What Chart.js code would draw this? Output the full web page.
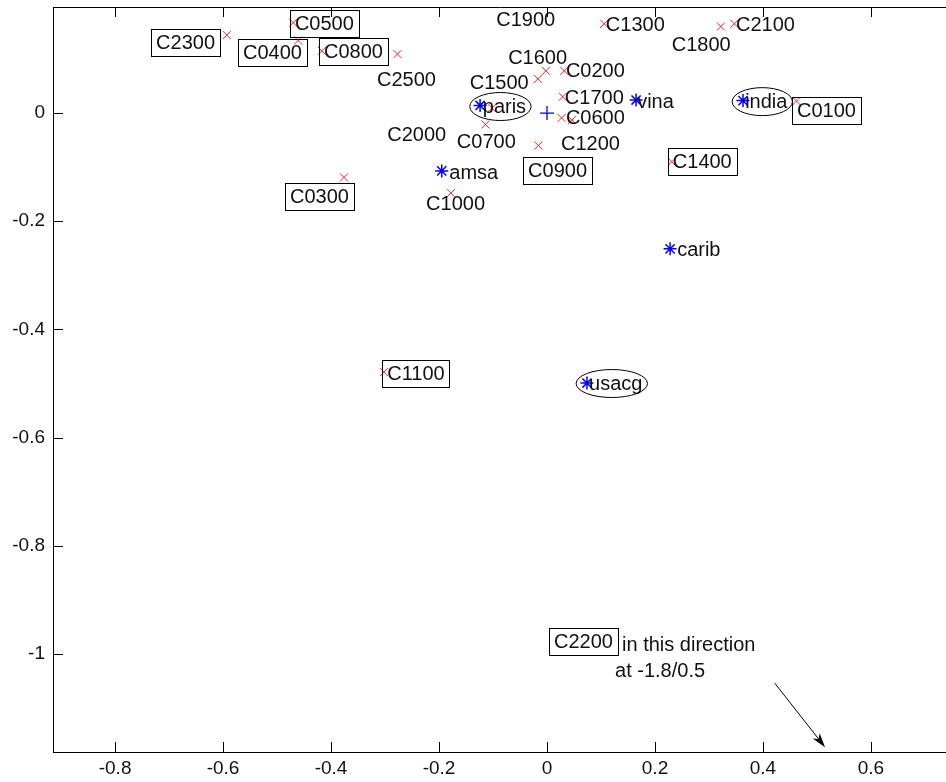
<!DOCTYPE html>
<html>
<head>
<meta charset="utf-8">
<title>Cluster map</title>
<script src="https://cdn.jsdelivr.net/npm/chart.js@4/dist/chart.umd.min.js"></script>
<style>
    html, body { margin: 0; padding: 0; background: #fff; overflow: hidden; }
    #wrap { position: relative; width: 946px; height: 782px; }
</style>
</head>
<body>
<div id="wrap"><canvas id="chart"></canvas></div>
<script>
// Red x markers (cluster points)
const crossX = [-0.593, -0.470, -0.461, -0.417, -0.277, 0.106, 0.322, 0.347, -0.002, -0.017, 0.032,
                0.029, 0.027, 0.046, -0.102, -0.114, -0.016, -0.376, -0.178, 0.462, 0.231, -0.302];
const crossY = [0.144, 0.167, 0.134, 0.115, 0.109, 0.165, 0.160, 0.165, 0.078, 0.063, 0.078,
                0.030, -0.009, -0.013, 0.009, -0.021, -0.060, -0.119, -0.148, 0.022, -0.090, -0.479];

// Blue star markers (regions)
const regionNames = ['paris', 'vina', 'india', 'amsa', 'carib', 'usacg'];
const regionX = [-0.124, 0.165, 0.363, -0.195, 0.228, 0.074];
const regionY = [0.014, 0.024, 0.023, -0.107, -0.251, -0.499];

// Blue plus at the origin
const originX = [0];
const originY = [0];

// Axis ticks
const xTicks = [-0.8, -0.6, -0.4, -0.2, 0, 0.2, 0.4, 0.6];
const xTickLabels = ['-0.8', '-0.6', '-0.4', '-0.2', '0', '0.2', '0.4', '0.6'];
const yTicks = [-1, -0.8, -0.6, -0.4, -0.2, 0];
const yTickLabels = ['-1', '-0.8', '-0.6', '-0.4', '-0.2', '0'];

// Text labels (left edge / middle, in data units) and their frame
const labelText = ['C2300', 'C0500', 'C0400', 'C0800', 'C2500', 'C1900', 'C1300', 'C2100', 'C1800',
                   'C1600', 'C1500', 'C0200', 'C1700', 'C0600', 'C2000', 'C0700', 'C1200', 'C0900',
                   'C0300', 'C1000', 'C0100', 'C1400', 'C1100', 'C2200',
                   'paris', 'vina', 'india', 'amsa', 'carib', 'usacg',
                   'in this direction', 'at -1.8/0.5'];
const labelX = [-0.724, -0.467, -0.563, -0.413, -0.315, -0.094, 0.109, 0.350, 0.231,
                -0.072, -0.143, 0.035, 0.033, 0.035, -0.296, -0.167, 0.026, -0.035,
                -0.476, -0.224, 0.463, 0.233, -0.296, 0.013,
                -0.119, 0.167, 0.367, -0.181, 0.241, 0.078,
                0.139, 0.126];
const labelY = [0.131, 0.167, 0.112, 0.115, 0.063, 0.174, 0.165, 0.165, 0.128,
                0.103, 0.057, 0.079, 0.029, -0.008, -0.039, -0.052, -0.055, -0.105,
                -0.153, -0.166, 0.006, -0.089, -0.481, -0.976,
                0.013, 0.022, 0.022, -0.109, -0.251, -0.499,
                -0.982, -1.030];
const labelFrame = ['box', 'box', 'box', 'box', '', '', '', '', '',
                    '', '', '', '', '', '', '', '', 'box',
                    'box', '', 'box', 'box', 'box', 'box',
                    'ellipse', '', 'ellipse', '', '', 'ellipse',
                    '', ''];

// Arrow pointing towards C2200
const arrowFrom = [0.422, -1.054];
const arrowTo = [0.515, -1.172];

const FONT = '"Liberation Sans", Arial, sans-serif';

function toPoints(xs, ys) {
    return xs.map((x, i) => ({ x: x, y: ys[i] }));
}

// Inward tick marks and the top border, MATLAB style
const boxTicks = {
    id: 'boxTicks',
    afterDraw(chart) {
        const ctx = chart.ctx;
        const a = chart.chartArea;
        const xs = chart.scales.x;
        const ys = chart.scales.y;
        const len = 10;
        ctx.save();
        ctx.strokeStyle = '#000';
        ctx.lineWidth = 1;
        ctx.beginPath();
        ctx.moveTo(a.left, a.top + 0.5);
        ctx.lineTo(a.right, a.top + 0.5);
        xTicks.forEach(v => {
            const px = Math.round(xs.getPixelForValue(v)) + 0.5;
            ctx.moveTo(px, a.bottom);
            ctx.lineTo(px, a.bottom - len);
            ctx.moveTo(px, a.top);
            ctx.lineTo(px, a.top + len);
        });
        yTicks.forEach(v => {
            const py = Math.round(ys.getPixelForValue(v)) + 0.5;
            ctx.moveTo(a.left, py);
            ctx.lineTo(a.left + len, py);
        });
        ctx.stroke();
        ctx.restore();
    }
};

// Text labels, frames and the arrow
const annotations = {
    id: 'annotations',
    afterDatasetsDraw(chart) {
        const ctx = chart.ctx;
        const xs = chart.scales.x;
        const ys = chart.scales.y;
        ctx.save();
        ctx.font = '20px ' + FONT;
        ctx.textBaseline = 'alphabetic';
        ctx.textAlign = 'left';
        ctx.fillStyle = '#111';
        ctx.strokeStyle = '#000';
        ctx.lineWidth = 1;

        labelText.forEach((txt, i) => {
            const px = xs.getPixelForValue(labelX[i]);
            const py = ys.getPixelForValue(labelY[i]);
            const w = ctx.measureText(txt).width;
            ctx.fillText(txt, px, py + 7);

            if (labelFrame[i] === 'box') {
                ctx.strokeRect(Math.round(px - 5) + 0.5, Math.round(py - 13) + 0.5,
                               Math.round(w + 10), 27);
            } else if (labelFrame[i] === 'ellipse') {
                ctx.beginPath();
                ctx.ellipse(px + w / 2 - 4, py + 0.5, w / 2 + 9, 14, 0, 0, Math.PI * 2);
                ctx.stroke();
            }
        });

        // Arrow
        const x1 = xs.getPixelForValue(arrowFrom[0]);
        const y1 = ys.getPixelForValue(arrowFrom[1]);
        const x2 = xs.getPixelForValue(arrowTo[0]);
        const y2 = ys.getPixelForValue(arrowTo[1]);
        const ang = Math.atan2(y2 - y1, x2 - x1);
        const head = 15;
        const spread = 0.3;
        ctx.beginPath();
        ctx.moveTo(x1, y1);
        ctx.lineTo(x2 - Math.cos(ang) * head * 0.7, y2 - Math.sin(ang) * head * 0.7);
        ctx.stroke();
        ctx.beginPath();
        ctx.moveTo(x2, y2);
        ctx.lineTo(x2 - head * Math.cos(ang - spread), y2 - head * Math.sin(ang - spread));
        ctx.lineTo(x2 - head * 0.7 * Math.cos(ang), y2 - head * 0.7 * Math.sin(ang));
        ctx.lineTo(x2 - head * Math.cos(ang + spread), y2 - head * Math.sin(ang + spread));
        ctx.closePath();
        ctx.fillStyle = '#000';
        ctx.fill();
        ctx.restore();
    }
};

function initChart() {
    const el = document.getElementById('chart');
    new Chart(el, {
        type: 'scatter',
        data: {
            datasets: [
                {
                    label: 'clusters',
                    data: toPoints(crossX, crossY),
                    pointStyle: 'crossRot',
                    pointRadius: 5.7,
                    borderColor: '#ff2020',
                    borderWidth: 1,
                    showLine: false
                },
                {
                    label: 'regions',
                    data: toPoints(regionX, regionY),
                    pointStyle: 'star',
                    pointRadius: 6.5,
                    borderColor: '#0000ff',
                    borderWidth: 1.5,
                    showLine: false
                },
                {
                    label: 'origin',
                    data: toPoints(originX, originY),
                    pointStyle: 'cross',
                    pointRadius: 7,
                    borderColor: '#0000ff',
                    borderWidth: 1.3,
                    showLine: false
                }
            ]
        },
        options: {
            responsive: true,
            maintainAspectRatio: false,
            animation: false,
            devicePixelRatio: 1,
            clip: false,
            layout: {
                autoPadding: false,
                padding: { top: 7, right: 0, left: 0, bottom: 0 }
            },
            plugins: {
                legend: { display: false },
                tooltip: { enabled: false }
            },
            scales: {
                x: {
                    type: 'linear',
                    min: -0.915,
                    max: 0.739,
                    grid: { display: false, drawTicks: false },
                    border: { display: true, color: '#000', width: 1 },
                    ticks: {
                        color: '#111',
                        font: { family: FONT, size: 19 },
                        padding: 5,
                        maxRotation: 0,
                        autoSkip: false,
                        callback: (v, i) => xTickLabels[i]
                    },
                    afterBuildTicks: s => { s.ticks = xTicks.map(v => ({ value: v })); },
                    afterFit: s => {
                        s.height = 30;
                        s.paddingLeft = 0;
                        s.paddingRight = 0;
                    }
                },
                y: {
                    type: 'linear',
                    min: -1.181,
                    max: 0.196,
                    grid: { display: false, drawTicks: false },
                    border: { display: true, color: '#000', width: 1 },
                    ticks: {
                        color: '#111',
                        font: { family: FONT, size: 19 },
                        padding: 8,
                        autoSkip: false,
                        callback: (v, i) => yTickLabels[i]
                    },
                    afterBuildTicks: s => { s.ticks = yTicks.map(v => ({ value: v })); },
                    afterFit: s => {
                        s.width = 53;
                        s.paddingTop = 0;
                        s.paddingBottom = 0;
                    }
                }
            }
        },
        plugins: [boxTicks, annotations]
    });
}

document.addEventListener('DOMContentLoaded', initChart);
</script>
</body>
</html>
